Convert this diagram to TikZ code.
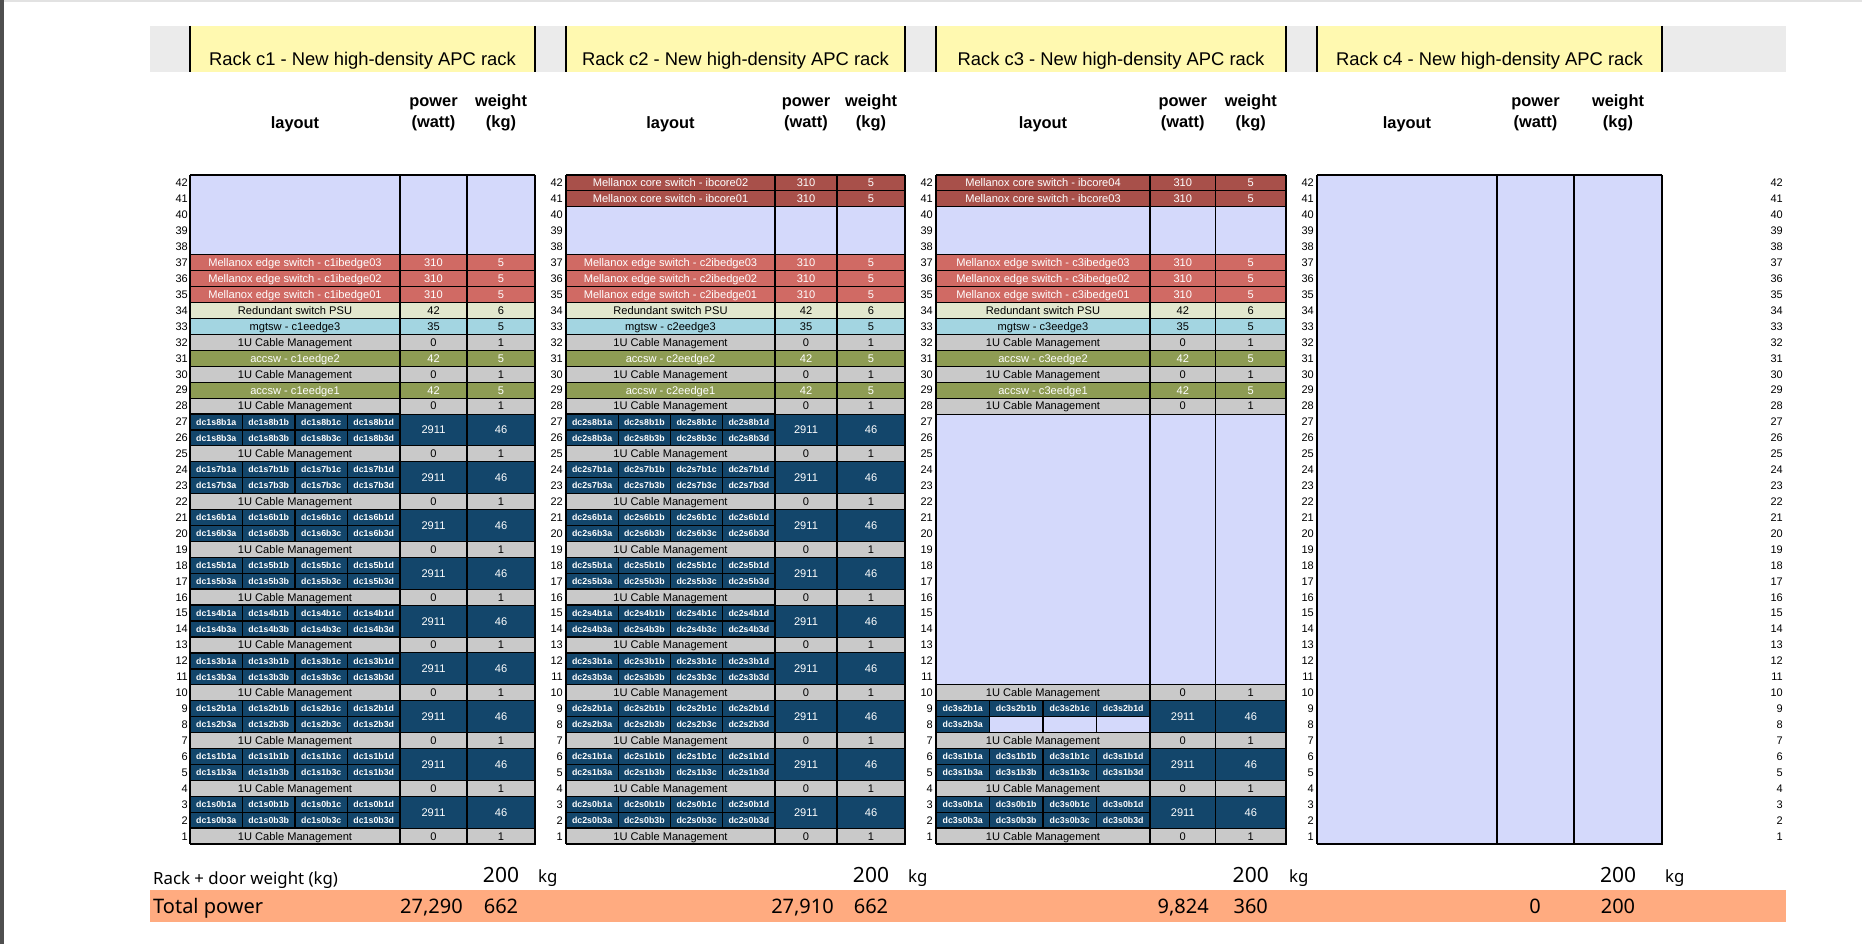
\documentclass[tikz,border=0pt]{standalone}
\usepackage{fontspec}
\setmainfont{Liberation Sans}
\newfontfamily\bfont{Noto Sans}
\definecolor{lav}{HTML}{D4D9FB}
\definecolor{edgec}{HTML}{D06A64}
\definecolor{corec}{HTML}{A8504A}
\definecolor{psuc}{HTML}{E2E7CE}
\definecolor{mgtc}{HTML}{A3D5E1}
\definecolor{cmc}{HTML}{C9C9C9}
\definecolor{accc}{HTML}{8E9C54}
\definecolor{dcb}{HTML}{13466B}
\definecolor{hdry}{HTML}{FFF9B0}
\definecolor{hdrg}{HTML}{EBEBEB}
\definecolor{totc}{HTML}{FFAB80}
\definecolor{barc}{HTML}{4F4F4F}
\definecolor{topc}{HTML}{E2E2E2}
\newcommand\fcell{\fontsize{11.1}{13}\selectfont}
\newcommand\fdc{\fontsize{8.8}{10}\selectfont\bfseries}
\newcommand\frow{\fontsize{11}{13}\selectfont}
\newcommand\ftitle{\fontsize{18.4}{22}\selectfont}
\newcommand\fhead{\fontsize{16.4}{19}\selectfont\bfseries}
\def\rh{15.93}
\newcommand\setrack[5]{\def\rid{#1}\def\xa{#2}\def\xb{#3}\def\xc{#4}\def\xd{#5}}
\tikzset{
  rkcell/.style={draw=black, line width=0.9pt},
  rksub/.style={draw=black, line width=1.4pt},
  rktxt/.style={font=\fcell, inner sep=0pt, anchor=base},
  dctxt/.style={font=\fdc, text=white, inner sep=0pt, anchor=base},
  rlbl/.style={font=\frow, inner sep=0pt, anchor=base east},
  ttl/.style={font=\ftitle, inner sep=0pt, anchor=base},
  hd/.style={font=\fhead, inner sep=0pt, anchor=base},
  vline/.style={draw=black, line width=1.8pt},
  botlbl/.style={font=\bfont\fontsize{16.8}{19}\selectfont, inner sep=0pt},
  botnum/.style={font=\bfont\fontsize{21}{24}\selectfont, inner sep=0pt},
  totlbl/.style={font=\bfont\fontsize{20}{23}\selectfont, inner sep=0pt}
}
% unit row: #1 top n, #2 bottom m, #3 fill, #4 text colour, #5 label, #6 power, #7 weight
\newcommand\urow[7]{%
  \pgfmathsetmacro\yt{175+(42-#1)*\rh}%
  \pgfmathsetmacro\yb{175+(43-#2)*\rh}%
  \pgfmathsetmacro\yc{(\yt+\yb)/2+4}%
  \filldraw[rkcell, fill=#3] (\xa,\yt) rectangle (\xb,\yb);
  \filldraw[rkcell, fill=#3] (\xb,\yt) rectangle (\xc,\yb);
  \filldraw[rkcell, fill=#3] (\xc,\yt) rectangle (\xd,\yb);
  \node[rktxt, text=#4] (\rid-#1-lbl) at ({(\xa+\xb)/2},\yc) {#5};
  \node[rktxt, text=#4] (\rid-#1-pw) at ({(\xb+\xc)/2},\yc) {#6};
  \node[rktxt, text=#4] (\rid-#1-wt) at ({(\xc+\xd)/2},\yc) {#7};
}
\newcommand\erow[2]{%
  \pgfmathsetmacro\yt{175+(42-#1)*\rh}%
  \pgfmathsetmacro\yb{175+(43-#2)*\rh}%
  \filldraw[rkcell, fill=lav] (\xa,\yt) rectangle (\xb,\yb);
  \filldraw[rkcell, fill=lav] (\xb,\yt) rectangle (\xc,\yb);
  \filldraw[rkcell, fill=lav] (\xc,\yt) rectangle (\xd,\yb);
}
% dc block: #1 upper row n, #2 prefix, #3 number of filled lower cells
\newcommand\dcblock[3]{%
  \pgfmathsetmacro\yt{175+(42-#1)*\rh}%
  \pgfmathsetmacro\ym{\yt+\rh}%
  \pgfmathsetmacro\yb{\yt+2*\rh}%
  \pgfmathsetmacro\sw{(\xb-\xa)/4}%
  \filldraw[rkcell, fill=dcb] (\xb,\yt) rectangle (\xc,\yb);
  \filldraw[rkcell, fill=dcb] (\xc,\yt) rectangle (\xd,\yb);
  \node[rktxt, text=white] (#2-pw) at ({(\xb+\xc)/2},{\ym+4}) {2911};
  \node[rktxt, text=white] (#2-wt) at ({(\xc+\xd)/2},{\ym+4}) {46};
  \foreach \i/\L in {0/a,1/b,2/c,3/d}{%
    \pgfmathsetmacro\xl{\xa+\i*\sw}%
    \pgfmathsetmacro\xr{\xl+\sw}%
    \filldraw[rksub, fill=dcb] (\xl,\yt) rectangle (\xr,\ym);
    \node[dctxt] (#2b1\L) at ({(\xl+\xr)/2},{\yt+\rh/2+3.2}) {#2b1\L};
    \ifnum\i<#3\relax
      \filldraw[rksub, fill=dcb] (\xl,\ym) rectangle (\xr,\yb);
      \node[dctxt] (#2b3\L) at ({(\xl+\xr)/2},{\ym+\rh/2+3.2}) {#2b3\L};
    \else
      \filldraw[rksub, fill=lav] (\xl,\ym) rectangle (\xr,\yb);
    \fi
  }%
}
\newcommand\commonrows[1]{%
  \urow{37}{37}{edgec}{white}{Mellanox edge switch - #1ibedge03}{310}{5}
  \urow{36}{36}{edgec}{white}{Mellanox edge switch - #1ibedge02}{310}{5}
  \urow{35}{35}{edgec}{white}{Mellanox edge switch - #1ibedge01}{310}{5}
  \urow{34}{34}{psuc}{black}{Redundant switch PSU}{42}{6}
  \urow{33}{33}{mgtc}{black}{mgtsw - #1eedge3}{35}{5}
  \urow{32}{32}{cmc}{black}{1U Cable Management}{0}{1}
  \urow{31}{31}{accc}{white}{accsw - #1eedge2}{42}{5}
  \urow{30}{30}{cmc}{black}{1U Cable Management}{0}{1}
  \urow{29}{29}{accc}{white}{accsw - #1eedge1}{42}{5}
  \urow{28}{28}{cmc}{black}{1U Cable Management}{0}{1}
}
\newcommand\rackframe{%
  \draw[vline] (\xa,175) -- (\xa,844.1);
  \draw[vline] (\xb,175) -- (\xb,844.1);
  \draw[vline] (\xc,175) -- (\xc,844.1);
  \draw[vline] (\xd,175) -- (\xd,844.1);
  \draw[vline] (\xa,175) -- (\xd,175);
  \draw[vline] (\xa,844.1) -- (\xd,844.1);
}
\newcommand\heads[1]{%
  \fill[hdry] (\xa,26) rectangle (\xd,72);
  \draw[vline] (\xa,26) -- (\xa,72);
  \draw[vline] (\xd,26) -- (\xd,72);
  \node[ttl] (\rid-title) at ({(\xa+\xd)/2},65.5) {Rack #1 - New high-density APC rack};
  \node[hd] (\rid-layout) at ({(\xa+\xb)/2},128.5) {layout};
  \node[hd] (\rid-power) at ({(\xb+\xc)/2},106.5) {power};
  \node[hd] (\rid-watt) at ({(\xb+\xc)/2},127.5) {(watt)};
  \node[hd] (\rid-weight) at ({(\xc+\xd)/2},106.5) {weight};
  \node[hd] (\rid-kg) at ({(\xc+\xd)/2},127.5) {(kg)};
}
\newcommand\rowlabels[1]{%
  \foreach \n in {1,...,42}{%
    \node[rlbl] (\rid-n\n-#1) at (#1,{175+(42.5-\n)*\rh+3.9}) {\n};
  }%
}
\newcommand\bottoms[3]{% #1 total power, #2 its right x, #3 total weight
  \node[botnum, anchor=base] (\rid-door) at ({(\xc+\xd)/2},882.5) {200};
  \node[botlbl, anchor=base west] (\rid-doorkg) at ({\xd+3},882.5) {kg};
  \node[totlbl, anchor=base east] (\rid-totpw) at (#2,913) {#1};
  \node[totlbl, anchor=base] (\rid-totwt) at ({(\xc+\xd)/2},913) {#3};
}
\begin{document}
\begin{tikzpicture}[x=1pt,y=-1pt]
\useasboundingbox (0,0) rectangle (1862,944);
\fill[white] (0,0) rectangle (1862,944);
\fill[topc] (0,0) rectangle (1862,2.5);
\fill[barc] (0,0) rectangle (4,944);
% header band and totals band
\fill[hdrg] (150,26) rectangle (1786,72);
\fill[totc] (150,890) rectangle (1786,921.7);
\node[botlbl, anchor=base west] (doorlbl) at (153,884) {Rack + door weight (kg)};
\node[totlbl, anchor=base west] (totlbl) at (153,913) {Total power};

% ---------- Rack c1
\setrack{c1}{190}{400}{467}{535}
\heads{c1}
\erow{42}{38}
\commonrows{c1}
\foreach \s in {8,...,0}{%
  \pgfmathtruncatemacro\tr{3*\s+3}%
  \pgfmathtruncatemacro\cr{3*\s+1}%
  \dcblock{\tr}{dc1s\s}{4}
  \urow{\cr}{\cr}{cmc}{black}{1U Cable Management}{0}{1}
}
\rackframe
\rowlabels{188}
\bottoms{27,290}{463}{662}

% ---------- Rack c2
\setrack{c2}{566}{775}{837}{905}
\heads{c2}
\urow{42}{42}{corec}{white}{Mellanox core switch - ibcore02}{310}{5}
\urow{41}{41}{corec}{white}{Mellanox core switch - ibcore01}{310}{5}
\erow{40}{38}
\commonrows{c2}
\foreach \s in {8,...,0}{%
  \pgfmathtruncatemacro\tr{3*\s+3}%
  \pgfmathtruncatemacro\cr{3*\s+1}%
  \dcblock{\tr}{dc2s\s}{4}
  \urow{\cr}{\cr}{cmc}{black}{1U Cable Management}{0}{1}
}
\rackframe
\rowlabels{563}
\bottoms{27,910}{834}{662}

% ---------- Rack c3
\setrack{c3}{936}{1150}{1215.5}{1286}
\heads{c3}
\urow{42}{42}{corec}{white}{Mellanox core switch - ibcore04}{310}{5}
\urow{41}{41}{corec}{white}{Mellanox core switch - ibcore03}{310}{5}
\erow{40}{38}
\commonrows{c3}
\erow{27}{11}
\urow{10}{10}{cmc}{black}{1U Cable Management}{0}{1}
\dcblock{9}{dc3s2}{1}
\urow{7}{7}{cmc}{black}{1U Cable Management}{0}{1}
\dcblock{6}{dc3s1}{4}
\urow{4}{4}{cmc}{black}{1U Cable Management}{0}{1}
\dcblock{3}{dc3s0}{4}
\urow{1}{1}{cmc}{black}{1U Cable Management}{0}{1}
\rackframe
\rowlabels{933}
\bottoms{9,824}{1209}{360}

% ---------- Rack c4
\setrack{c4}{1317}{1497}{1574}{1662}
\heads{c4}
\erow{42}{1}
\rackframe
\rowlabels{1314}
\rowlabels{1783}
\bottoms{0}{1541}{200}
\end{tikzpicture}
\end{document}
